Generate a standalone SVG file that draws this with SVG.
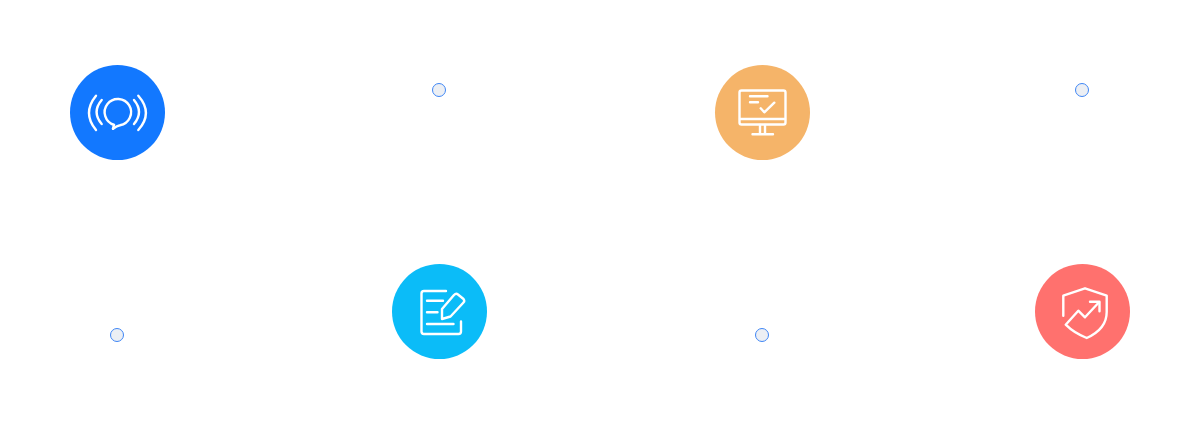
<svg xmlns="http://www.w3.org/2000/svg" width="1199" height="424" viewBox="0 0 1199 424">
<style>
.ic{fill:none;stroke:#fff;stroke-width:2.400;stroke-linecap:round;stroke-linejoin:round}
.dot{fill:#eceff4;stroke:#3f86f5;stroke-width:1}
</style>
<rect width="1199" height="424" fill="#ffffff"/>
<g id="node-signal">
<circle cx="117.500" cy="112.500" r="47.500" fill="#1278ff"/>
<path class="ic" d="M114 124.800A13.200 13.200 0 1 1 120 125.200Q117 125.500 113 128.800"/>
<path class="ic" d="M114 124.800L113 128.800"/>
<path class="ic" d="M101.700 100Q91.500 112 101.700 124M134 100Q144 112 134 124M96 95.700Q82 113 96 130M138.300 95.700Q153.500 113 138.300 130"/>
</g>
<g id="node-monitor">
<circle cx="762.500" cy="112.500" r="47.500" fill="#f5b469"/>
<rect class="ic" x="739.500" y="90.500" width="46" height="34" rx="2"/>
<path class="ic" d="M740 119H785M760 125V134M765 125V134M752.500 134.300H773M750 96.300H767.500M750 102.300H758M760.700 108.300L764.300 112.300L774.300 102.700"/>
</g>
<g id="node-document">
<circle cx="439.500" cy="311.500" r="47.500" fill="#0bbcf8"/>
<path class="ic" d="M461 321.500V331.500Q461 334 458.500 334H424Q421.500 334 421.500 331.500V293.500Q421.500 291 424 291H446"/>
<path class="ic" d="M427 300.700H443M427 312.300H437.500M427 324H453.500"/>
<path class="ic" d="M442 319V309L454 295Q456 293 458 294.500L463.500 299Q465 301 463.500 302.500L450.500 316.500Z"/>
</g>
<g id="node-shield">
<circle cx="1082.500" cy="311.500" r="47.500" fill="#ff716e"/>
<path class="ic" d="M1063.300 315.700V295.700L1085 288.300L1106.700 295.700V312Q1106.700 329 1086.700 338Q1074 333 1065.700 324.700L1078.300 310.700L1085 317.300L1099 302.300"/>
<path class="ic" d="M1090 301.700H1099.500V311.300"/>
</g>
<g id="connectors">
<circle class="dot" cx="439" cy="90" r="6.500"/>
<circle class="dot" cx="1082" cy="90" r="6.500"/>
<circle class="dot" cx="117" cy="335" r="6.500"/>
<circle class="dot" cx="762" cy="335" r="6.500"/>
</g>
</svg>
